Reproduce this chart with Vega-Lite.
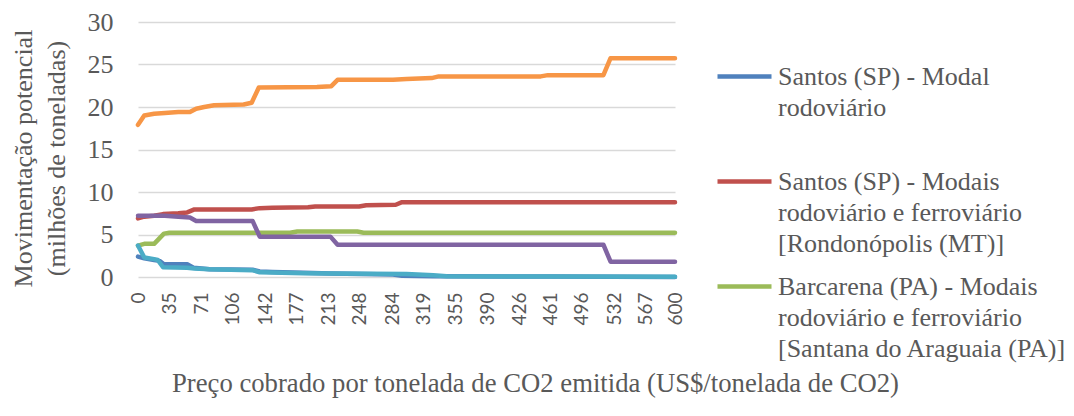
{
  "$schema": "https://vega.github.io/schema/vega-lite/v6.json",
  "width": 537,
  "height": 255,
  "autosize": {"type": "none"},
  "padding": {"left": 138, "top": 22, "right": 399, "bottom": 139},
  "background": "white",
  "config": {
    "view": {"stroke": null},
    "style": {"guide-label": {"lineHeight": 31}}
  },
  "data": {"values": [
    {"s":"Santos (SP) - Modal rodoviário","x":0,"y":2.4},
    {"s":"Santos (SP) - Modal rodoviário","x":7,"y":2.2},
    {"s":"Santos (SP) - Modal rodoviário","x":18,"y":2.0},
    {"s":"Santos (SP) - Modal rodoviário","x":24,"y":1.9},
    {"s":"Santos (SP) - Modal rodoviário","x":29,"y":1.5},
    {"s":"Santos (SP) - Modal rodoviário","x":55,"y":1.5},
    {"s":"Santos (SP) - Modal rodoviário","x":62,"y":1.1},
    {"s":"Santos (SP) - Modal rodoviário","x":80,"y":0.9},
    {"s":"Santos (SP) - Modal rodoviário","x":128,"y":0.85},
    {"s":"Santos (SP) - Modal rodoviário","x":136,"y":0.65},
    {"s":"Santos (SP) - Modal rodoviário","x":150,"y":0.6},
    {"s":"Santos (SP) - Modal rodoviário","x":185,"y":0.5},
    {"s":"Santos (SP) - Modal rodoviário","x":215,"y":0.4},
    {"s":"Santos (SP) - Modal rodoviário","x":250,"y":0.35},
    {"s":"Santos (SP) - Modal rodoviário","x":285,"y":0.3},
    {"s":"Santos (SP) - Modal rodoviário","x":295,"y":0.15},
    {"s":"Santos (SP) - Modal rodoviário","x":330,"y":0.1},
    {"s":"Santos (SP) - Modal rodoviário","x":460,"y":0.05},
    {"s":"Santos (SP) - Modal rodoviário","x":600,"y":0.0},

    {"s":"Santos (SP) - Modais rodoviário e ferroviário [Rondonópolis (MT)]","x":0,"y":6.9},
    {"s":"Santos (SP) - Modais rodoviário e ferroviário [Rondonópolis (MT)]","x":7,"y":7.1},
    {"s":"Santos (SP) - Modais rodoviário e ferroviário [Rondonópolis (MT)]","x":18,"y":7.2},
    {"s":"Santos (SP) - Modais rodoviário e ferroviário [Rondonópolis (MT)]","x":28,"y":7.4},
    {"s":"Santos (SP) - Modais rodoviário e ferroviário [Rondonópolis (MT)]","x":45,"y":7.5},
    {"s":"Santos (SP) - Modais rodoviário e ferroviário [Rondonópolis (MT)]","x":55,"y":7.6},
    {"s":"Santos (SP) - Modais rodoviário e ferroviário [Rondonópolis (MT)]","x":63,"y":7.95},
    {"s":"Santos (SP) - Modais rodoviário e ferroviário [Rondonópolis (MT)]","x":127,"y":7.95},
    {"s":"Santos (SP) - Modais rodoviário e ferroviário [Rondonópolis (MT)]","x":136,"y":8.1},
    {"s":"Santos (SP) - Modais rodoviário e ferroviário [Rondonópolis (MT)]","x":150,"y":8.15},
    {"s":"Santos (SP) - Modais rodoviário e ferroviário [Rondonópolis (MT)]","x":190,"y":8.2},
    {"s":"Santos (SP) - Modais rodoviário e ferroviário [Rondonópolis (MT)]","x":198,"y":8.3},
    {"s":"Santos (SP) - Modais rodoviário e ferroviário [Rondonópolis (MT)]","x":247,"y":8.3},
    {"s":"Santos (SP) - Modais rodoviário e ferroviário [Rondonópolis (MT)]","x":255,"y":8.45},
    {"s":"Santos (SP) - Modais rodoviário e ferroviário [Rondonópolis (MT)]","x":288,"y":8.5},
    {"s":"Santos (SP) - Modais rodoviário e ferroviário [Rondonópolis (MT)]","x":295,"y":8.8},
    {"s":"Santos (SP) - Modais rodoviário e ferroviário [Rondonópolis (MT)]","x":600,"y":8.8},

    {"s":"Barcarena (PA) - Modais rodoviário e ferroviário [Santana do Araguaia (PA)]","x":0,"y":3.7},
    {"s":"Barcarena (PA) - Modais rodoviário e ferroviário [Santana do Araguaia (PA)]","x":7,"y":3.9},
    {"s":"Barcarena (PA) - Modais rodoviário e ferroviário [Santana do Araguaia (PA)]","x":18,"y":3.9},
    {"s":"Barcarena (PA) - Modais rodoviário e ferroviário [Santana do Araguaia (PA)]","x":29,"y":5.1},
    {"s":"Barcarena (PA) - Modais rodoviário e ferroviário [Santana do Araguaia (PA)]","x":35,"y":5.2},
    {"s":"Barcarena (PA) - Modais rodoviário e ferroviário [Santana do Araguaia (PA)]","x":170,"y":5.2},
    {"s":"Barcarena (PA) - Modais rodoviário e ferroviário [Santana do Araguaia (PA)]","x":178,"y":5.35},
    {"s":"Barcarena (PA) - Modais rodoviário e ferroviário [Santana do Araguaia (PA)]","x":245,"y":5.35},
    {"s":"Barcarena (PA) - Modais rodoviário e ferroviário [Santana do Araguaia (PA)]","x":252,"y":5.2},
    {"s":"Barcarena (PA) - Modais rodoviário e ferroviário [Santana do Araguaia (PA)]","x":600,"y":5.2},

    {"s":"Série 4","x":0,"y":7.2},
    {"s":"Série 4","x":30,"y":7.2},
    {"s":"Série 4","x":45,"y":7.1},
    {"s":"Série 4","x":58,"y":7.0},
    {"s":"Série 4","x":65,"y":6.6},
    {"s":"Série 4","x":128,"y":6.6},
    {"s":"Série 4","x":136,"y":4.75},
    {"s":"Série 4","x":215,"y":4.75},
    {"s":"Série 4","x":223,"y":3.8},
    {"s":"Série 4","x":520,"y":3.8},
    {"s":"Série 4","x":528,"y":1.8},
    {"s":"Série 4","x":600,"y":1.8},

    {"s":"Série 5","x":0,"y":3.7},
    {"s":"Série 5","x":7,"y":2.3},
    {"s":"Série 5","x":18,"y":2.1},
    {"s":"Série 5","x":22,"y":2.0},
    {"s":"Série 5","x":28,"y":1.15},
    {"s":"Série 5","x":55,"y":1.1},
    {"s":"Série 5","x":63,"y":1.0},
    {"s":"Série 5","x":80,"y":0.9},
    {"s":"Série 5","x":128,"y":0.8},
    {"s":"Série 5","x":136,"y":0.55},
    {"s":"Série 5","x":185,"y":0.45},
    {"s":"Série 5","x":215,"y":0.4},
    {"s":"Série 5","x":300,"y":0.35},
    {"s":"Série 5","x":330,"y":0.2},
    {"s":"Série 5","x":345,"y":0.1},
    {"s":"Série 5","x":460,"y":0.05},
    {"s":"Série 5","x":600,"y":0.02},

    {"s":"Série 6","x":0,"y":17.9},
    {"s":"Série 6","x":7,"y":19.0},
    {"s":"Série 6","x":18,"y":19.2},
    {"s":"Série 6","x":30,"y":19.3},
    {"s":"Série 6","x":45,"y":19.4},
    {"s":"Série 6","x":58,"y":19.4},
    {"s":"Série 6","x":65,"y":19.8},
    {"s":"Série 6","x":74,"y":20.0},
    {"s":"Série 6","x":85,"y":20.2},
    {"s":"Série 6","x":118,"y":20.3},
    {"s":"Série 6","x":127,"y":20.5},
    {"s":"Série 6","x":135,"y":22.3},
    {"s":"Série 6","x":200,"y":22.35},
    {"s":"Série 6","x":216,"y":22.45},
    {"s":"Série 6","x":223,"y":23.2},
    {"s":"Série 6","x":285,"y":23.2},
    {"s":"Série 6","x":300,"y":23.3},
    {"s":"Série 6","x":328,"y":23.4},
    {"s":"Série 6","x":336,"y":23.6},
    {"s":"Série 6","x":450,"y":23.6},
    {"s":"Série 6","x":458,"y":23.75},
    {"s":"Série 6","x":520,"y":23.75},
    {"s":"Série 6","x":528,"y":25.75},
    {"s":"Série 6","x":600,"y":25.75}
  ]},
  "mark": {"type": "line", "strokeWidth": 4.5, "strokeCap": "round", "strokeJoin": "round"},
  "encoding": {
    "x": {
      "field": "x", "type": "quantitative",
      "scale": {"domain": [0, 600], "nice": false, "zero": false},
      "axis": {
        "values": [0,35,71,106,142,177,213,248,284,319,355,390,426,461,496,532,567,600],
        "labelAngle": -90, "labelAlign": "right", "labelBaseline": "middle",
        "labelFont": "Lato", "labelFontSize": 19, "labelColor": "#595959",
        "labelPadding": 15, "ticks": false, "domain": false, "grid": false,
        "labelOverlap": false, "labelFlush": false,
        "title": "Preço cobrado por tonelada de CO2 emitida (US$/tonelada de CO2)",
        "titleFont": "Liberation Serif", "titleFontSize": 26.7, "titleFontWeight": "normal",
        "titleColor": "#595959", "titleX": 397, "titleY": 106, "titleAlign": "center", "titleBaseline": "middle"
      }
    },
    "y": {
      "field": "y", "type": "quantitative",
      "scale": {"domain": [0, 30], "nice": false},
      "axis": {
        "values": [0,5,10,15,20,25,30],
        "labelFont": "Liberation Serif", "labelFontSize": 26, "labelColor": "#595959",
        "labelPadding": 25, "ticks": false, "domain": false,
        "grid": true, "gridColor": "#D9D9D9", "gridWidth": 1.3,
        "title": ["Movimentação potencial", "(milhões de toneladas)"],
        "titleFont": "Liberation Serif", "titleFontSize": 26, "titleFontWeight": "normal",
        "titleColor": "#595959", "titleLineHeight": 33, "titlePadding": 18, "titleY": 136
      }
    },
    "color": {
      "field": "s", "type": "nominal",
      "scale": {
        "domain": ["Santos (SP) - Modal rodoviário", "Santos (SP) - Modais rodoviário e ferroviário [Rondonópolis (MT)]", "Barcarena (PA) - Modais rodoviário e ferroviário [Santana do Araguaia (PA)]", "Série 4", "Série 5", "Série 6"],
        "range": ["#4F81BD", "#C0504D", "#9BBB59", "#8064A2", "#4BACC6", "#F79646"]
      },
      "legend": {
        "values": ["Santos (SP) - Modal rodoviário", "Santos (SP) - Modais rodoviário e ferroviário [Rondonópolis (MT)]", "Barcarena (PA) - Modais rodoviário e ferroviário [Santana do Araguaia (PA)]"],
        "title": null, "orient": "none", "legendX": 577, "legendY": 25,
        "symbolType": "stroke", "symbolSize": 2916, "symbolStrokeWidth": 4.5,
        "labelFont": "Liberation Serif", "labelFontSize": 26, "labelColor": "#595959",
        "labelBaseline": "middle", "labelOffset": 4, "labelLimit": 400,
        "rowPadding": -2,
        "labelExpr": "datum.label == 'Santos (SP) - Modal rodoviário' ? ['Santos (SP) - Modal', 'rodoviário', ' '] : datum.label == 'Barcarena (PA) - Modais rodoviário e ferroviário [Santana do Araguaia (PA)]' ? ['Barcarena (PA) - Modais', 'rodoviário e ferroviário', '[Santana do Araguaia (PA)]'] : ['Santos (SP) - Modais', 'rodoviário e ferroviário', '[Rondonópolis (MT)]']"
      }
    }
  }
}
